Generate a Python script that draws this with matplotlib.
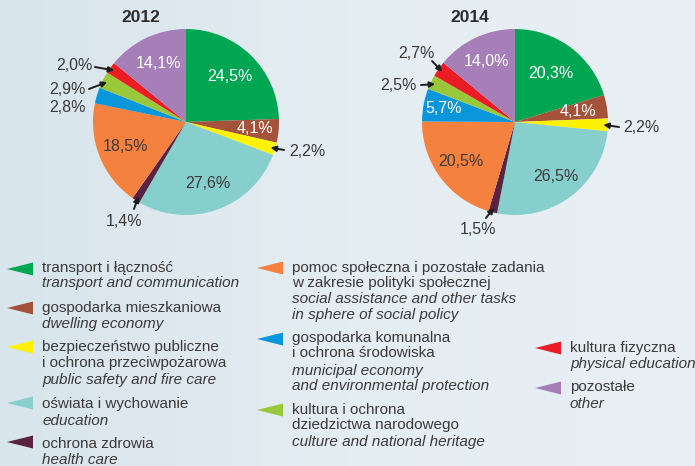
import numpy as np
import matplotlib.pyplot as plt
from matplotlib.patches import Polygon

plt.rcParams['font.family'] = ['Liberation Sans', 'DejaVu Sans']

# data
years = ["2012", "2014"]
values_2012 = [24.5, 4.1, 2.2, 27.6, 1.4, 18.5, 2.8, 2.9, 2.0, 14.1]
values_2014 = [20.3, 4.1, 2.2, 26.5, 1.5, 20.5, 5.7, 2.5, 2.7, 14.0]
colors = ["#00a651", "#a4523a", "#fff200", "#86cfcc", "#5b2342",
          "#f5813f", "#0a96db", "#99c93b", "#ec1c24", "#a67fb9"]

cat_pl = [
    ["transport i łączność"],
    ["gospodarka mieszkaniowa"],
    ["bezpieczeństwo publiczne", "i ochrona przeciwpożarowa"],
    ["oświata i wychowanie"],
    ["ochrona zdrowia"],
    ["pomoc społeczna i pozostałe zadania", "w zakresie polityki społecznej"],
    ["gospodarka komunalna", "i ochrona środowiska"],
    ["kultura i ochrona", "dziedzictwa narodowego"],
    ["kultura fizyczna"],
    ["pozostałe"],
]
cat_en = [
    ["transport and communication"],
    ["dwelling economy"],
    ["public safety and fire care"],
    ["education"],
    ["health care"],
    ["social assistance and other tasks", "in sphere of social policy"],
    ["municipal economy", "and environmental protection"],
    ["culture and national heritage"],
    ["physical education"],
    ["other"],
]

W, H = 695, 466
fig = plt.figure(figsize=(W / 100, H / 100), dpi=100)
ax = fig.add_axes([0, 0, 1, 1])

# background
grad = np.linspace(0, 1, 256).reshape(1, -1)
from matplotlib.colors import LinearSegmentedColormap
bg = LinearSegmentedColormap.from_list("bg", ["#d8e5ec", "#e4edf2", "#e9f0f4"])
ax.imshow(grad, extent=[0, W, 0, H], aspect='auto', cmap=bg, zorder=0)


def py(y):
    return H - y


TXT = "#3a3a3a"
R = 93

# per-pie layout: centre, inside-label radius factors / white text, external labels
layouts = {
    "2012": dict(
        c=(186, 122), title=(141, 18),
        inside={0: (0.68, 'white'), 1: (0.75, 'white'), 3: (0.70, TXT),
                5: (0.70, TXT), 9: (0.70, 'white')},
        outside={2: ((289, 152), 'left', (284, 150)),
                 4: ((124, 221), 'center', (134, 209)),
                 6: ((86, 108), 'right', None),
                 7: ((86, 89), 'right', (89, 89)),
                 8: ((93, 65), 'right', (95, 67))},
    ),
    "2014": dict(
        c=(515, 122), title=(470, 18),
        inside={0: (0.65, 'white'), 1: (0.69, 'white'), 3: (0.73, TXT),
                5: (0.72, TXT), 6: (0.78, 'white'), 9: (0.72, 'white')},
        outside={2: ((623, 128), 'left', (619, 127)),
                 4: ((478, 230), 'center', (486, 218)),
                 7: ((417, 85), 'right', (421, 85)),
                 8: ((435, 54), 'right', (432, 61))},
    ),
}

for year, vals in zip(years, [values_2012, values_2014]):
    L = layouts[year]
    cx, cy = L["c"][0], py(L["c"][1])
    wedges, _ = ax.pie(vals, colors=colors, startangle=90, counterclock=False,
                       center=(cx, cy), radius=R,
                       wedgeprops=dict(linewidth=0))
    ax.text(L["title"][0], py(L["title"][1]), year, ha='center', va='center',
            fontsize=12.5, fontweight='bold', color="#2b2b2b")
    for i, w in enumerate(wedges):
        ang = np.deg2rad((w.theta1 + w.theta2) / 2)
        lab = f"{vals[i]:.1f}".replace('.', ',') + '%'
        if i in L["inside"]:
            rf, col = L["inside"][i]
            ax.text(cx + rf * R * np.cos(ang), cy + rf * R * np.sin(ang), lab,
                    ha='center', va='center', fontsize=11.5, color=col)
        else:
            (tx, ty), ha, start = L["outside"][i]
            ax.text(tx, py(ty), lab, ha=ha, va='center', fontsize=11.5, color=TXT)
            if start is not None:
                tip = (cx + 0.95 * R * np.cos(ang), cy + 0.95 * R * np.sin(ang))
                ax.annotate('', xy=tip, xytext=(start[0], py(start[1])),
                            arrowprops=dict(arrowstyle='-|>', color='#1e1e1e',
                                            lw=1.4, mutation_scale=8,
                                            shrinkA=0, shrinkB=0))

# legend
legend_pos = [
    (7, 42, 269, [268, 283]),
    (7, 42, 308, [308, 324]),
    (7, 42, 347, [347, 363, 380]),
    (7, 42, 403, [404, 421]),
    (7, 42, 442, [444, 460]),
    (257, 292, 268, [268, 283, 299, 315]),
    (257, 292, 339, [338, 353, 371, 386]),
    (257, 292, 410, [410, 425, 442]),
    (535, 570, 348, [348, 364]),
    (535, 570, 388, [387, 404]),
]
for i, (mx, tx, my, ys) in enumerate(legend_pos):
    tri = Polygon([(mx, py(my)), (mx + 26, py(my - 6.5)), (mx + 26, py(my + 6.5))],
                  closed=True, facecolor=colors[i], edgecolor='none', zorder=3)
    ax.add_patch(tri)
    lines = [(t, 'normal') for t in cat_pl[i]] + [(t, 'italic') for t in cat_en[i]]
    for (t, st), y in zip(lines, ys):
        ax.text(tx, py(y), t, ha='left', va='center', fontsize=11,
                style=st, color=TXT)

ax.set_xlim(0, W)
ax.set_ylim(0, H)
ax.set_aspect('auto')
ax.axis('off')

fig.savefig("out.png", dpi=100)
